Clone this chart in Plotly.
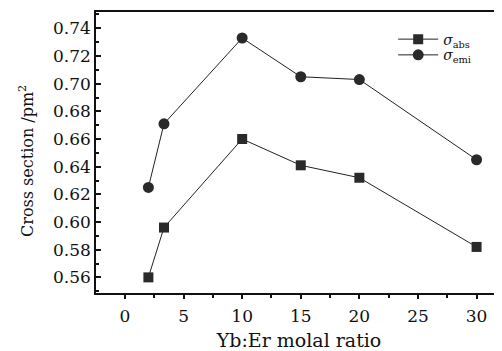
import plotly.graph_objects as go

ratio = [2, 3.33, 10, 15, 20, 30]
sigma_abs = [0.560, 0.596, 0.660, 0.641, 0.632, 0.582]
sigma_emi = [0.625, 0.671, 0.733, 0.705, 0.703, 0.645]

FONT = "DejaVu Serif"

fig = go.Figure()
fig.add_trace(go.Scatter(
    x=ratio, y=sigma_abs, mode="lines+markers",
    name="<i>σ</i><sub>abs</sub>", legend="legend",
    line=dict(color="#222", width=1),
    marker=dict(symbol="square", size=10, color="#2a2a2a"),
))
fig.add_trace(go.Scatter(
    x=ratio, y=sigma_emi, mode="lines+markers",
    name="<i>σ</i><sub>emi</sub>", legend="legend2",
    line=dict(color="#222", width=1),
    marker=dict(symbol="circle", size=11, color="#2a2a2a"),
))

leg_common = dict(xanchor="left", yanchor="middle", bgcolor="rgba(0,0,0,0)",
                  font=dict(size=14, family=FONT), itemwidth=40)

# page body has an 8px default margin, so the figure is sized/offset to compensate
fig.update_layout(
    width=494, height=343,
    margin=dict(l=88, r=0, t=4, b=58, autoexpand=False),
    paper_bgcolor="white", plot_bgcolor="white",
    font=dict(family=FONT, size=16, color="#111"),
    showlegend=True,
    legend=dict(x=0.732, y=0.902, **leg_common),
    legend2=dict(x=0.732, y=0.846, **leg_common),
    annotations=[dict(
        text="Cross section /pm<sup>2</sup>", xref="paper", yref="paper",
        x=0, y=0.47, xshift=-69, xanchor="center", yanchor="middle",
        textangle=-90, showarrow=False, font=dict(size=16, family=FONT, color="#111"),
    )],
)
fig.update_xaxes(
    range=[-2.47, 32.17], tickvals=[0, 5, 10, 15, 20, 25, 30],
    ticks="outside", ticklen=4, tickwidth=1.5, tickcolor="#111",
    ticklabelstandoff=3, automargin=False,
    minor=dict(dtick=2.5, tick0=0, ticks="outside", ticklen=3, tickcolor="#111"),
    showline=True, linecolor="#111", linewidth=1.5, mirror=True,
    showgrid=False, zeroline=False,
    title=dict(text="Yb:Er molal ratio", font=dict(size=19, family=FONT), standoff=12),
    tickfont=dict(size=17, family=FONT),
)
fig.update_yaxes(
    range=[0.5487, 0.7518], tickvals=[0.56, 0.58, 0.60, 0.62, 0.64, 0.66, 0.68, 0.70, 0.72, 0.74],
    tickformat=".2f", automargin=False,
    ticks="inside", ticklen=5, tickwidth=1.5, tickcolor="#111",
    minor=dict(dtick=0.01, tick0=0.56, ticks="inside", ticklen=3, tickcolor="#111"),
    showline=True, linecolor="#111", linewidth=1.5, mirror=False,
    showgrid=False, zeroline=False,
    tickfont=dict(size=17, family=FONT),
)

fig.write_html("out.html")
